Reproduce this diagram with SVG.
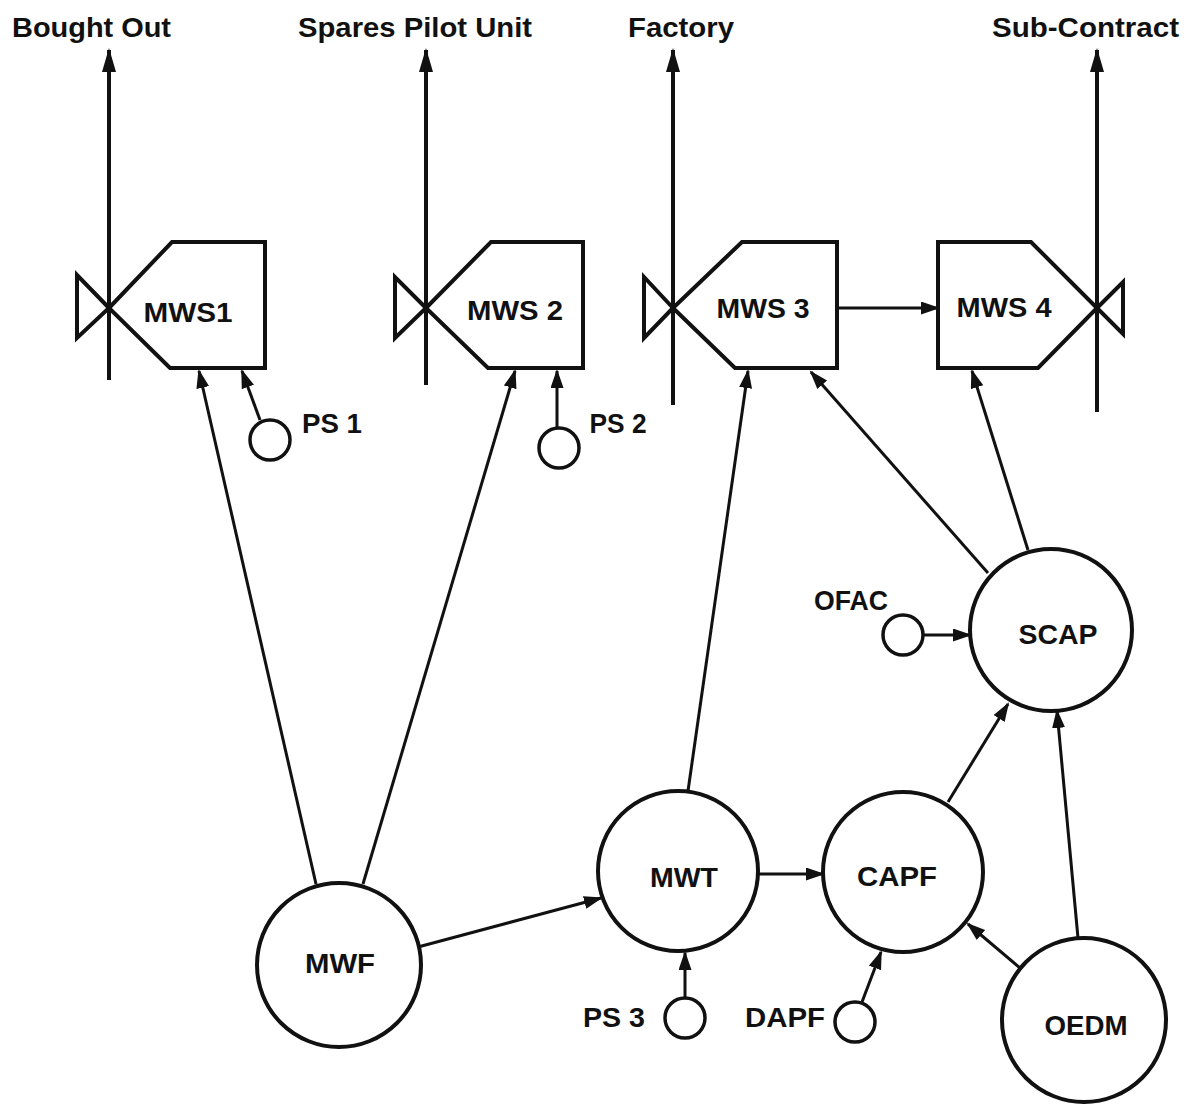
<svg xmlns="http://www.w3.org/2000/svg" width="1192" height="1106" viewBox="0 0 1192 1106">
<style>
.shape{fill:none;stroke:#111;stroke-width:4;stroke-linejoin:miter}
.node{fill:#fff;stroke:#111;stroke-width:4}
.small{fill:#fff;stroke:#111;stroke-width:3.5}
.conn{fill:none;stroke:#111;stroke-width:3;marker-end:url(#ah)}
.out{fill:none;stroke:#111;stroke-width:4;marker-end:url(#ahb)}
text{font-family:"Liberation Sans",Arial,Helvetica,sans-serif;font-weight:bold;font-size:28px;fill:#111;text-anchor:middle}
</style>
<defs>
<marker id="ah" markerUnits="userSpaceOnUse" markerWidth="20" markerHeight="14" refX="17" refY="6.5" orient="auto">
<path d="M0,0 L19,6.5 L0,13 Z" fill="#111"/>
</marker>
<marker id="ahb" markerUnits="userSpaceOnUse" markerWidth="26" markerHeight="16" refX="22" refY="7" orient="auto">
<path d="M0,0 L24,7 L0,14 Z" fill="#111"/>
</marker>
</defs>
<rect x="0" y="0" width="1192" height="1106" fill="#fff"/>

<g id="connectors">
<line class="out" x1="109" y1="380" x2="109" y2="50"/>
<line class="out" x1="426" y1="385" x2="426" y2="50"/>
<line class="out" x1="673" y1="405" x2="673" y2="50"/>
<line class="out" x1="1097" y1="412" x2="1097" y2="50"/>
<line class="conn" x1="837" y1="308" x2="938" y2="308"/>
<line class="conn" x1="316" y1="884" x2="199" y2="371"/>
<line class="conn" x1="260" y1="420" x2="242" y2="371"/>
<line class="conn" x1="363" y1="884" x2="515" y2="371"/>
<line class="conn" x1="557" y1="427" x2="557" y2="371"/>
<line class="conn" x1="688" y1="791" x2="748" y2="371"/>
<line class="conn" x1="988" y1="573" x2="811" y2="372"/>
<line class="conn" x1="1028" y1="550" x2="972" y2="371"/>
<line class="conn" x1="923" y1="635" x2="970" y2="635"/>
<line class="conn" x1="948" y1="802" x2="1008" y2="704"/>
<line class="conn" x1="1078" y1="938" x2="1057" y2="711"/>
<line class="conn" x1="1020" y1="968" x2="968" y2="924"/>
<line class="conn" x1="758" y1="874" x2="823" y2="874"/>
<line class="conn" x1="685" y1="998" x2="685" y2="953"/>
<line class="conn" x1="862" y1="1002" x2="881" y2="952"/>
<line class="conn" x1="418" y1="947" x2="601" y2="898"/>
</g>

<g id="label-bought-out"><text x="91.5" y="37" textLength="159" lengthAdjust="spacingAndGlyphs">Bought Out</text></g>
<g id="label-spares"><text x="415" y="37" textLength="234" lengthAdjust="spacingAndGlyphs">Spares Pilot Unit</text></g>
<g id="label-factory"><text x="681" y="37" textLength="106" lengthAdjust="spacingAndGlyphs">Factory</text></g>
<g id="label-subcontract"><text x="1085.5" y="37" textLength="187" lengthAdjust="spacingAndGlyphs">Sub-Contract</text></g>

<g id="MWS1">
<polygon class="shape" points="109,308 172,242 265,242 265,368 170,368"/>
<polygon class="shape" points="109,308 77,275 77,338"/>
<text x="188" y="322" textLength="89" lengthAdjust="spacingAndGlyphs">MWS1</text>
</g>
<g id="MWS2">
<polygon class="shape" points="426,308 491,242 583,242 583,368 488,368"/>
<polygon class="shape" points="426,308 395,277 395,338"/>
<text x="515" y="320" textLength="96" lengthAdjust="spacingAndGlyphs">MWS 2</text>
</g>
<g id="MWS3">
<polygon class="shape" points="673,308 742,242 837,242 837,368 735,368"/>
<polygon class="shape" points="673,308 644,277 644,338"/>
<text x="763" y="318" textLength="93" lengthAdjust="spacingAndGlyphs">MWS 3</text>
</g>
<g id="MWS4">
<polygon class="shape" points="938,242 1031,242 1097,308 1038,368 938,368"/>
<polygon class="shape" points="1097,308 1123,282 1123,334"/>
<text x="1004" y="317" textLength="95" lengthAdjust="spacingAndGlyphs">MWS 4</text>
</g>

<g id="PS1">
<circle class="small" cx="270" cy="440" r="20"/>
<text x="332" y="433" textLength="60" lengthAdjust="spacingAndGlyphs">PS 1</text>
</g>
<g id="PS2">
<circle class="small" cx="559" cy="448" r="20"/>
<text x="618" y="433" textLength="57" lengthAdjust="spacingAndGlyphs">PS 2</text>
</g>
<g id="PS3">
<circle class="small" cx="685" cy="1018" r="20"/>
<text x="614" y="1027" textLength="62" lengthAdjust="spacingAndGlyphs">PS 3</text>
</g>
<g id="DAPF">
<circle class="small" cx="855" cy="1022" r="20"/>
<text x="785" y="1027" textLength="80" lengthAdjust="spacingAndGlyphs">DAPF</text>
</g>
<g id="OFAC">
<circle class="small" cx="903" cy="635" r="20"/>
<text x="851" y="610" textLength="74" lengthAdjust="spacingAndGlyphs">OFAC</text>
</g>

<g id="MWF">
<circle class="node" cx="339" cy="965" r="82"/>
<text x="340" y="973" textLength="70" lengthAdjust="spacingAndGlyphs">MWF</text>
</g>
<g id="MWT">
<circle class="node" cx="678" cy="871" r="80"/>
<text x="684" y="887" textLength="68" lengthAdjust="spacingAndGlyphs">MWT</text>
</g>
<g id="CAPF">
<circle class="node" cx="903" cy="872" r="80"/>
<text x="897" y="886" textLength="80" lengthAdjust="spacingAndGlyphs">CAPF</text>
</g>
<g id="SCAP">
<circle class="node" cx="1051" cy="630" r="81"/>
<text x="1058" y="644" textLength="79" lengthAdjust="spacingAndGlyphs">SCAP</text>
</g>
<g id="OEDM">
<circle class="node" cx="1084" cy="1020" r="82"/>
<text x="1086" y="1035" textLength="83" lengthAdjust="spacingAndGlyphs">OEDM</text>
</g>
</svg>
